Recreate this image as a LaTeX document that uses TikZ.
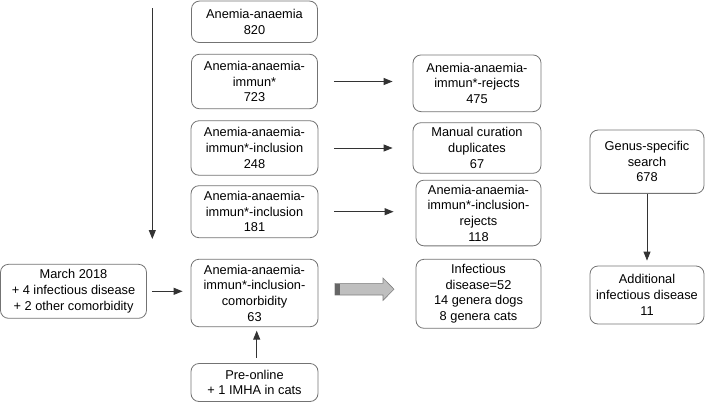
\documentclass[tikz,border=0pt]{standalone}
\usepackage{fontspec}
\setmainfont{Liberation Sans}
\usepackage{xcolor}
\usepackage{tikz}
\usetikzlibrary{arrows.meta, calc}

\tikzset{
  box/.style={draw=black!55, line width=0.8pt, rounded corners=8pt, align=center, inner sep=0pt,
    font=\fontsize{12.8}{15.7}\selectfont},
  arr/.style={draw=black!80, line width=0.9pt, -{Triangle[length=9pt,width=7pt]}},
}

\begin{document}
\begin{tikzpicture}[x=1pt, y=-1pt]
  \useasboundingbox (0,0) rectangle (709,402);

  % middle column
  \node [box, minimum width=126pt, minimum height=41.5pt] (n820) at (254.5, 21.8) {Anemia-anaemia\\820};
  \node [box, minimum width=126pt, minimum height=54.5pt] (n723) at (254.5, 81.5) {Anemia-anaemia-\\immun*\\723};
  \node [box, minimum width=127pt, minimum height=54.5pt] (n248) at (254.5, 148) {Anemia-anaemia-\\immun*-inclusion\\248};
  \node [box, minimum width=127pt, minimum height=52pt] (n181) at (254.5, 211.7) {Anemia-anaemia-\\immun*-inclusion\\181};
  \node [box, minimum width=127pt, minimum height=67.5pt] (n63) at (254.5, 293) {Anemia-anaemia-\\immun*-inclusion-\\comorbidity\\63};
  \node [box, minimum width=127pt, minimum height=38pt] (preonline) at (254.5, 382.5) {Pre-online\\+ 1 IMHA in cats};
  \node [box, minimum width=146pt, minimum height=54pt] (march) at (73.5, 291.3) {March 2018\\+ 4 infectious disease\\+ 2 other comorbidity};

  % right columns
  \node [box, minimum width=128pt, minimum height=56.7pt] (rej475) at (477, 83.3) {Anemia-anaemia-\\immun*-rejects\\475};
  \node [box, minimum width=128pt, minimum height=50.6pt] (manual) at (477, 148) {Manual curation\\duplicates\\67};
  \node [box, minimum width=125pt, minimum height=65.7pt] (rej118) at (478.5, 213) {Anemia-anaemia-\\immun*-inclusion-\\rejects\\118};
  \node [box, minimum width=125pt, minimum height=69pt] (infect) at (478.5, 293.8) {Infectious\\disease=52\\14 genera dogs\\8 genera cats};
  \node [box, minimum width=114pt, minimum height=63.3pt] (genus) at (647, 161.7) {Genus-specific\\search\\678};
  \node [box, minimum width=114pt, minimum height=58pt] (additional) at (647, 295) {Additional\\infectious disease\\11};

  \coordinate (flowtop) at (152.3, 8);
  \coordinate (flowend) at (152.3, 239);
  \draw [arr] (flowtop) to (flowend);

  \draw [arr, shorten <=16pt, shorten >=20pt] (n723.east) to (n723.east -| rej475.west);
  \draw [arr, shorten <=16pt, shorten >=20pt] (n248.east) to (n248.east -| manual.west);
  \draw [arr, shorten <=16pt, shorten >=22pt] (n181.east) to (n181.east -| rej118.west);
  \draw [arr, shorten <=5pt, shorten >=8pt] (march.east) to (march.east -| n63.west);
  \draw [arr, shorten <=5.5pt, shorten >=3.5pt] ($(preonline.north)+(2.2,0)$) to ($(n63.south)+(2.2,0)$);
  \draw [arr, shorten <=0pt, shorten >=5pt] (genus.south) to (additional.north);

  % fat grey arrow
  \filldraw [fill=black!25, draw=black!50, line width=0.6pt]
    (335, 283.3) -- (383, 283.3) -- (383, 278) -- (394, 289.2) -- (383, 300.4) -- (383, 295) -- (335, 295) -- cycle;
  \fill [black!60] (335.3, 283.6) rectangle (340, 294.7);
\end{tikzpicture}
\end{document}
